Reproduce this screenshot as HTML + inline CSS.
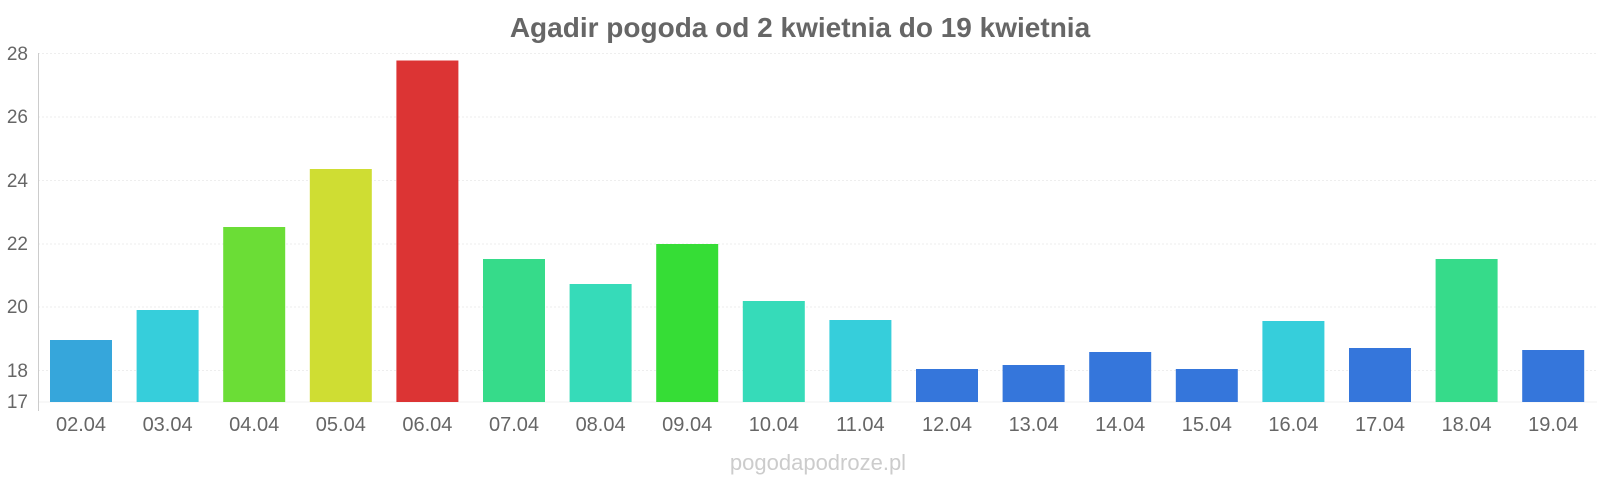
<!DOCTYPE html>
<html><head><meta charset="utf-8"><style>
html,body{margin:0;padding:0;background:#fff;}
svg{display:block;font-family:"Liberation Sans",sans-serif;}
</style></head><body>
<svg width="1600" height="480" viewBox="0 0 1600 480" xmlns="http://www.w3.org/2000/svg">
<text x="800" y="37" text-anchor="middle" font-size="28" font-weight="bold" fill="#666">Agadir pogoda od 2 kwietnia do 19 kwietnia</text>
<g stroke="#eee" stroke-width="1" stroke-dasharray="2,2">
<line x1="38" x2="1597" y1="53.5" y2="53.5"/>
<line x1="38" x2="1597" y1="117" y2="117"/>
<line x1="38" x2="1597" y1="180.5" y2="180.5"/>
<line x1="38" x2="1597" y1="244" y2="244"/>
<line x1="38" x2="1597" y1="307" y2="307"/>
<line x1="38" x2="1597" y1="370.5" y2="370.5"/>
<line x1="38" x2="1597" y1="402" y2="402" stroke-dasharray="none" stroke="#f2f2f2"/>
</g>
<line x1="38.5" x2="38.5" y1="53" y2="411" stroke="#ccc" stroke-width="1"/>
<g font-size="19" fill="#666" text-anchor="end">
<text x="28" y="60">28</text>
<text x="28" y="123">26</text>
<text x="28" y="187">24</text>
<text x="28" y="250">22</text>
<text x="28" y="313">20</text>
<text x="28" y="377">18</text>
<text x="28" y="408">17</text>
</g>
<g>
<rect x="50" y="340" width="62" height="62" fill="#36a6db"/>
<rect x="136.6" y="310" width="62" height="92" fill="#36cedb"/>
<rect x="223.2" y="227" width="62" height="175" fill="#6bdd36"/>
<rect x="309.8" y="169" width="62" height="233" fill="#cfdd33"/>
<rect x="396.4" y="60.5" width="62" height="341.5" fill="#dc3434"/>
<rect x="483" y="259" width="62" height="143" fill="#36db8a"/>
<rect x="569.6" y="284" width="62" height="118" fill="#36dbb9"/>
<rect x="656.2" y="244" width="62" height="158" fill="#36dd36"/>
<rect x="742.8" y="301" width="62" height="101" fill="#36dbb9"/>
<rect x="829.4" y="320" width="62" height="82" fill="#36cedb"/>
<rect x="916" y="369" width="62" height="33" fill="#3576db"/>
<rect x="1002.6" y="365" width="62" height="37" fill="#3576db"/>
<rect x="1089.2" y="352" width="62" height="50" fill="#3576db"/>
<rect x="1175.8" y="369" width="62" height="33" fill="#3576db"/>
<rect x="1262.4" y="321" width="62" height="81" fill="#36cedb"/>
<rect x="1349" y="348" width="62" height="54" fill="#3576db"/>
<rect x="1435.6" y="259" width="62" height="143" fill="#36db8a"/>
<rect x="1522.2" y="350" width="62" height="52" fill="#3576db"/>
</g>
<g font-size="20" fill="#666" text-anchor="middle">
<text x="81" y="431">02.04</text>
<text x="167.6" y="431">03.04</text>
<text x="254.2" y="431">04.04</text>
<text x="340.8" y="431">05.04</text>
<text x="427.4" y="431">06.04</text>
<text x="514" y="431">07.04</text>
<text x="600.6" y="431">08.04</text>
<text x="687.2" y="431">09.04</text>
<text x="773.8" y="431">10.04</text>
<text x="860.4" y="431">11.04</text>
<text x="947" y="431">12.04</text>
<text x="1033.6" y="431">13.04</text>
<text x="1120.2" y="431">14.04</text>
<text x="1206.8" y="431">15.04</text>
<text x="1293.4" y="431">16.04</text>
<text x="1380" y="431">17.04</text>
<text x="1466.6" y="431">18.04</text>
<text x="1553.2" y="431">19.04</text>
</g>
<text x="818" y="470" text-anchor="middle" font-size="22" fill="#ccc">pogodapodroze.pl</text>
</svg>
</body></html>
